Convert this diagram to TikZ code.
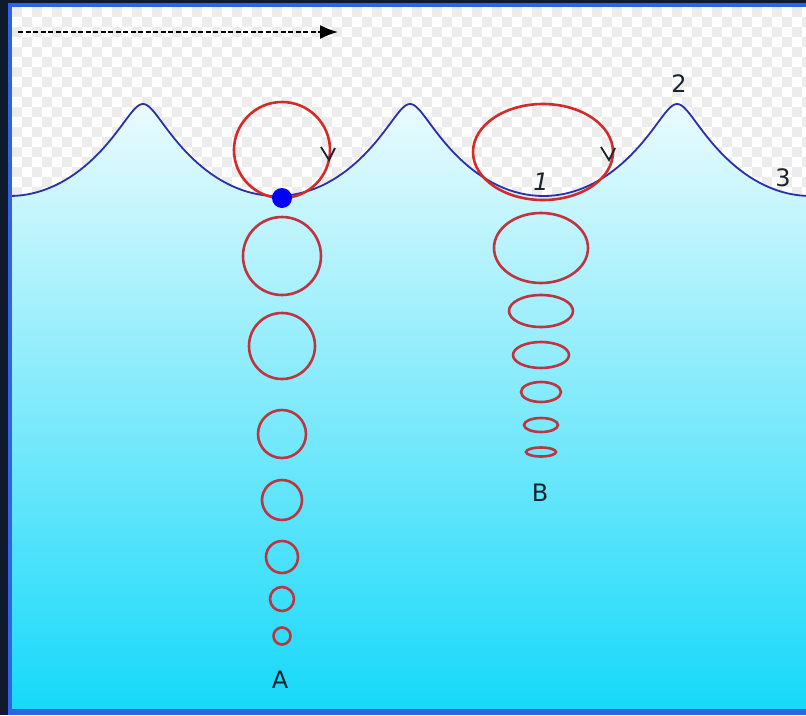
\documentclass[tikz,border=0pt]{standalone}
\usepackage{fontspec}
\setmainfont{DejaVu Sans}
\usetikzlibrary{arrows.meta}
\definecolor{frame}{HTML}{0F1A2C}
\definecolor{rim}{HTML}{2F62E6}
\definecolor{check}{HTML}{ECECEC}
\definecolor{surf}{HTML}{EAFBFD}
\definecolor{deep}{HTML}{16D9F9}
\definecolor{waveblue}{HTML}{2B2FA8}
\definecolor{orbitred}{HTML}{D42A2A}
\definecolor{sunkred}{HTML}{BE3440}
\definecolor{ink}{HTML}{1A2430}
\newcommand{\orbit}[5][sunkred]{\draw[#1,line width=2.6pt] (#2,#3) ellipse (#4pt and #5pt);}
\newcommand{\turn}[2]{\draw[ink,line width=1.8pt] (#1-8,#2-13)--(#1,#2)--(#1+6,#2-12);}
\tikzset{lbl/.style={text=ink,font=\fontsize{24}{28}\selectfont,inner sep=0pt}}

\begin{document}
\begin{tikzpicture}[x=1pt,y=-1pt]
\useasboundingbox (0,0) rectangle (806,715);
\fill[frame] (0,0) rectangle (806,715);
\fill[rim] (8,3) rectangle (812,715);
\fill[white] (12,7) rectangle (812,709);
\begin{scope}
\clip (12,7) rectangle (812,709);
% checkerboard backdrop
\foreach \i in {0,2,...,80} \foreach \j in {0,2,...,20} {
  \fill[check] (12+\i*10,7+\j*10) rectangle ++(10,10);
  \fill[check] (22+\i*10,17+\j*10) rectangle ++(10,10);}
% water under the wave
\fill[top color=surf,bottom color=deep] plot[domain=-3.1416:15.708,samples=220,variable=\t] ({143+42.5*\t-25.5*sin(\t r)},{150-46*cos(\t r)}) -- (812,709) -- (8,709) -- cycle;
\draw[waveblue,line width=1.8pt] plot[domain=-3.1416:15.708,samples=220,variable=\t] ({143+42.5*\t-25.5*sin(\t r)},{150-46*cos(\t r)});
\end{scope}
% drift direction
\coordinate (drift0) at (18,32);
\coordinate (drift1) at (338,32);
\draw[black,line width=1.6pt,dash pattern=on 5pt off 2.5pt,-{Latex[length=18pt,width=14pt]}] (drift0) -- (drift1);
% deep water column
\orbit[orbitred]{282}{150}{48}{48}
\orbit{282}{256}{39}{39}
\orbit{282}{346}{33}{33}
\orbit{282}{434}{24}{24}
\orbit{282}{500}{20}{20}
\orbit{282}{557}{16}{16}
\orbit{282}{599}{12}{12}
\orbit{282}{636}{8.5}{8.5}
\fill[blue] (282,198) circle (10pt);
\turn{329}{160}
% shallow water column
\orbit[orbitred]{543}{152}{70}{48}
\orbit{541}{248}{47}{35}
\orbit{541}{311}{32}{16}
\orbit{541}{355}{28}{13}
\orbit{541}{392}{20}{10}
\orbit{541}{425}{17}{7}
\orbit{541}{452}{15}{4.5}
\turn{609}{160}
\node[lbl] (lblA) at (280,680) {A};
\node[lbl] (lblB) at (540,493) {B};
\node[lbl,font=\fontsize{24}{28}\selectfont\itshape] (lbl1) at (541,182) {1};
\node[lbl] (lbl2) at (679,84) {2};
\node[lbl] (lbl3) at (783,178) {3};
\end{tikzpicture}
\end{document}
